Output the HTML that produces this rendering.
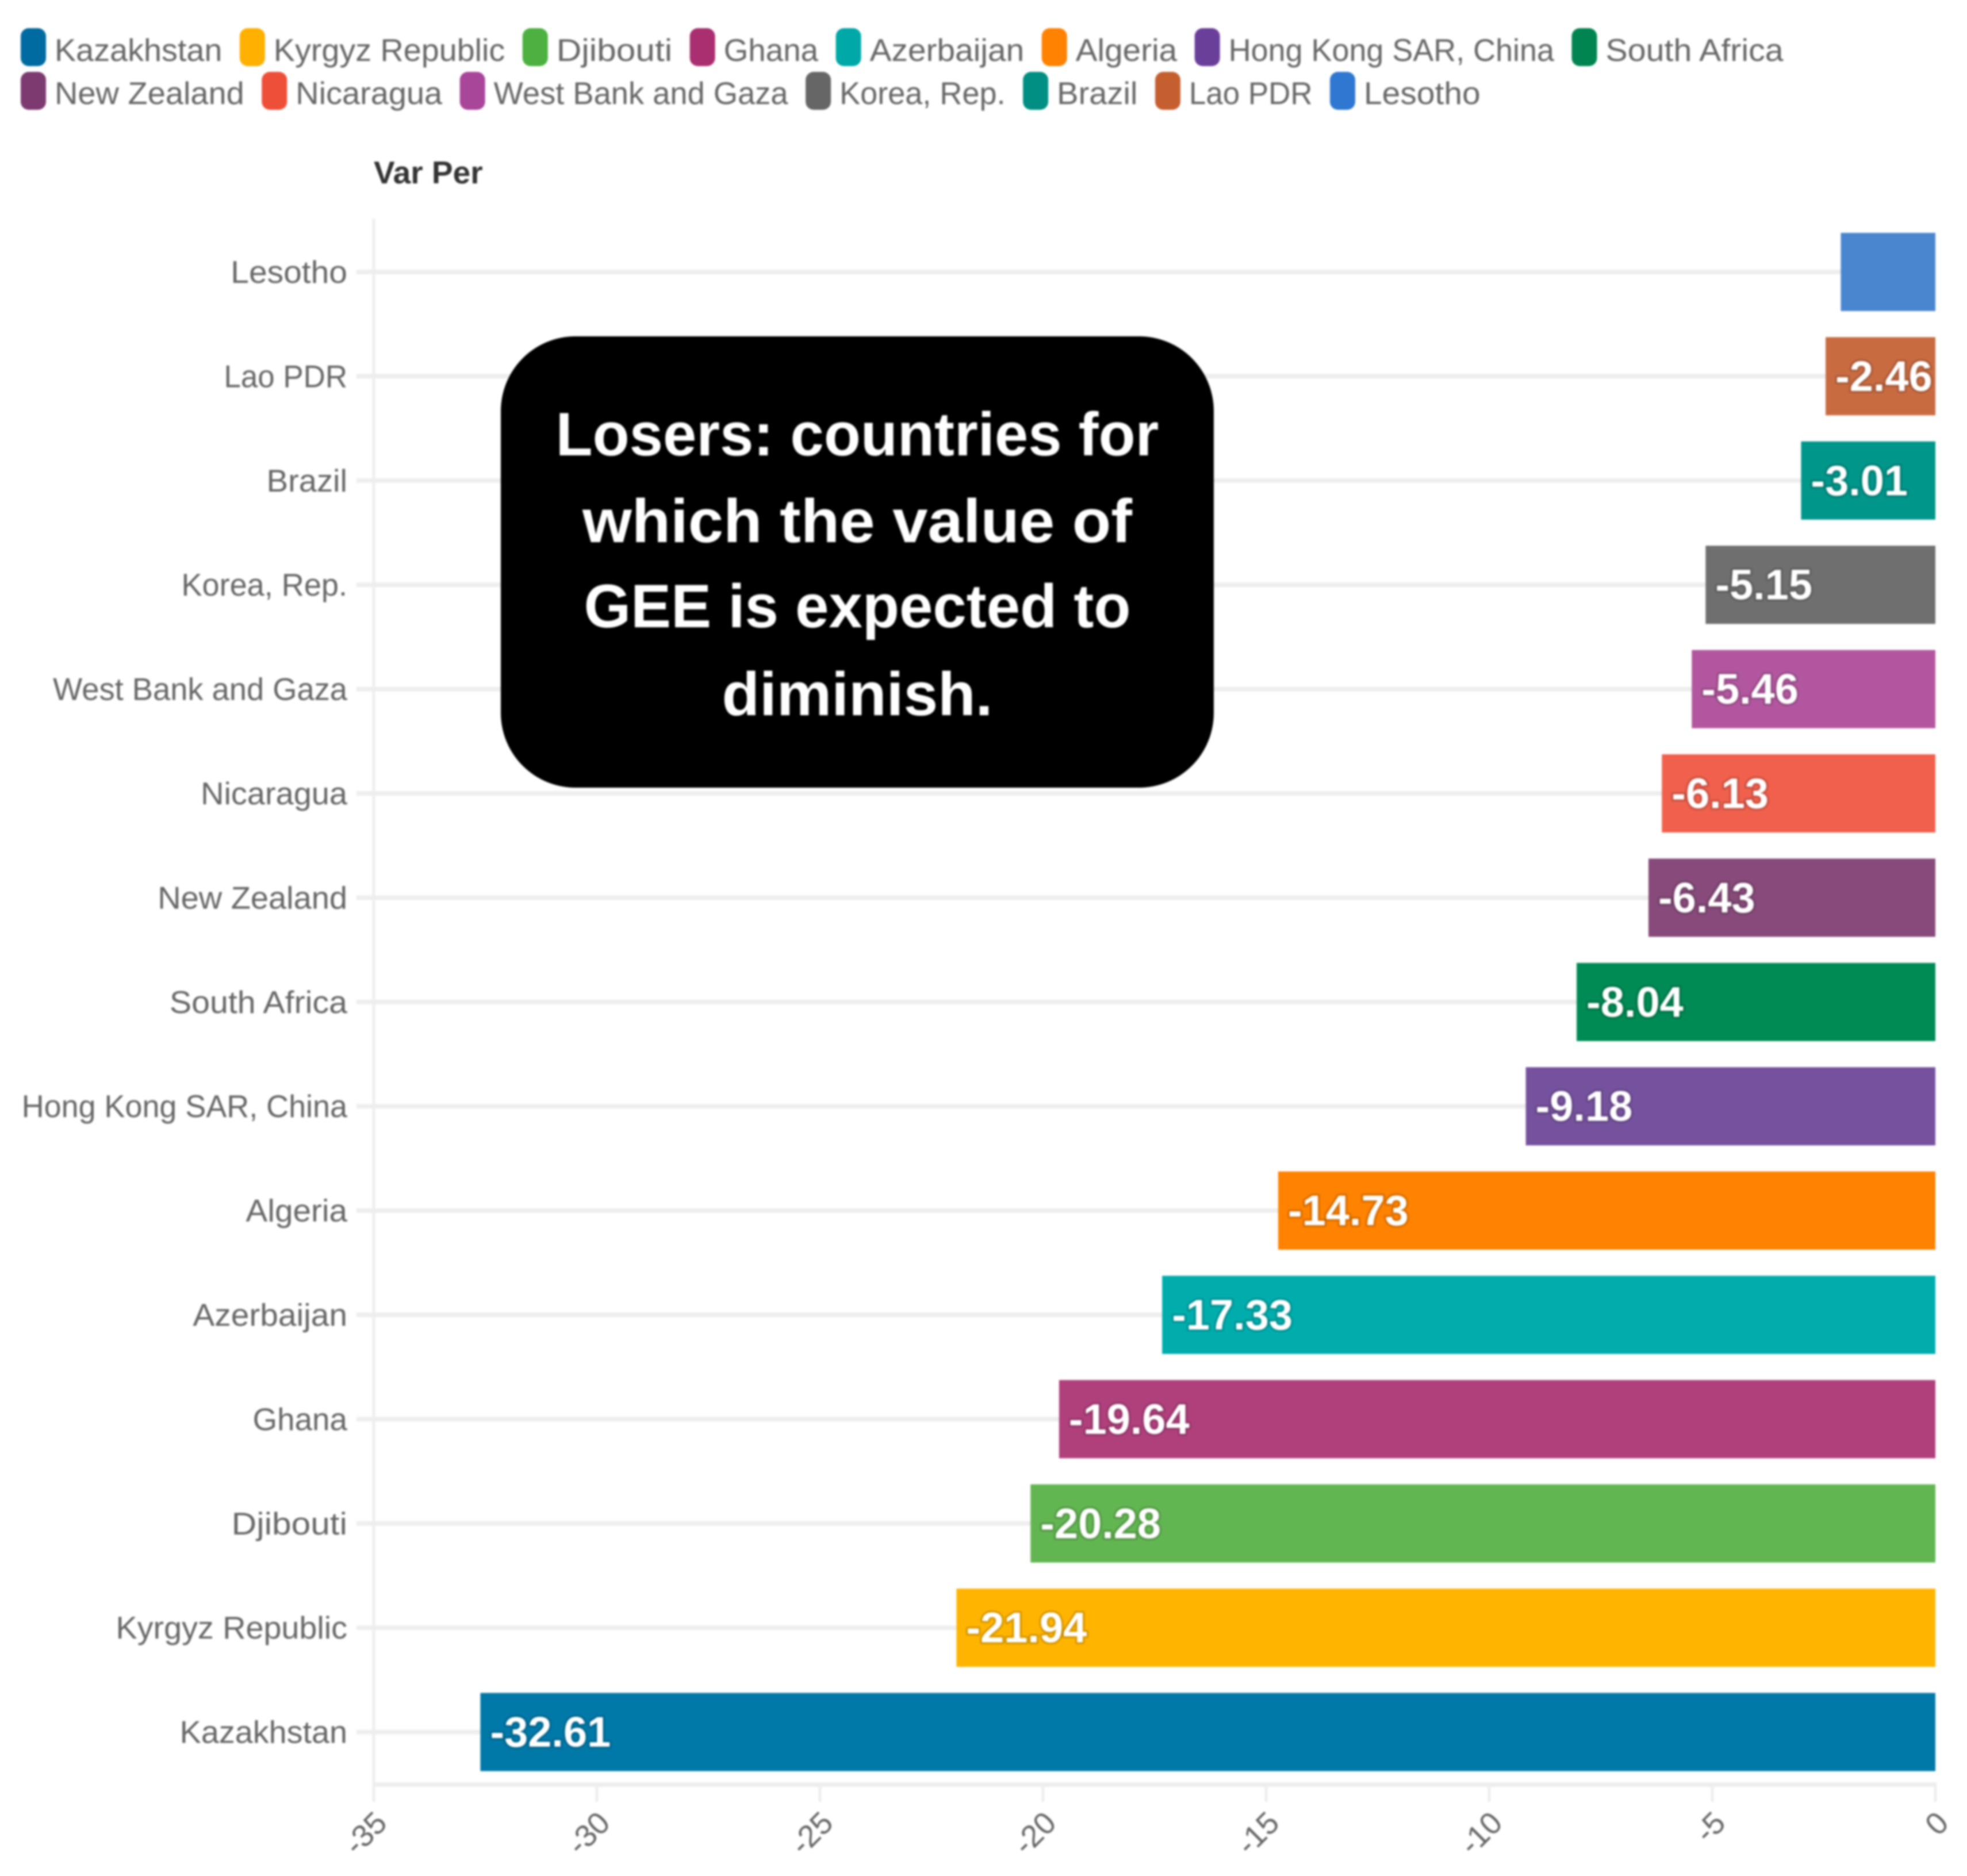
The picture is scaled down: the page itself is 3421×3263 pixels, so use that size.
<!DOCTYPE html>
<html lang="en">
<head>
<meta charset="utf-8">
<title>Losers: countries for which the value of GEE is expected to diminish</title>
<style>
  html, body { margin: 0; padding: 0; background: #ffffff; }
  #chart { display: block; width: 3421px; height: 3263px; filter: blur(1.5px); font-family: "Liberation Sans", sans-serif; }
</style>
</head>
<body>
<svg id="chart" xmlns="http://www.w3.org/2000/svg" width="3421" height="3263" viewBox="0 0 3421 3263">
  <rect x="0" y="0" width="3421" height="3263" fill="#ffffff"/>
  <g id="legend"></g>
  <text x="650" y="319" font-size="55" font-weight="700" fill="#333333">Var Per</text>
  <g id="grid"></g>
  <g id="axes"></g>
  <g id="bars"></g>
  <g id="y-labels"></g>
  <g id="x-labels"></g>
  <g id="bar-values"></g>
  <g>
    <rect x="871" y="585" width="1240" height="785" rx="130" ry="130" fill="#000000"/>
    <g font-size="107" font-weight="700" fill="#ffffff" text-anchor="middle">
      <text x="1491" y="792" textLength="1049" lengthAdjust="spacingAndGlyphs">Losers: countries for</text>
      <text x="1491" y="943" textLength="956" lengthAdjust="spacingAndGlyphs">which the value of</text>
      <text x="1491" y="1091" textLength="951" lengthAdjust="spacingAndGlyphs">GEE is expected to</text>
      <text x="1491" y="1244" textLength="471" lengthAdjust="spacingAndGlyphs">diminish.</text>
    </g>
  </g>
</svg>
<script>
const categories = ["Lesotho", "Lao PDR", "Brazil", "Korea, Rep.", "West Bank and Gaza", "Nicaragua", "New Zealand", "South Africa", "Hong Kong SAR, China", "Algeria", "Azerbaijan", "Ghana", "Djibouti", "Kyrgyz Republic", "Kazakhstan"];
const values = [-2.12, -2.46, -3.01, -5.15, -5.46, -6.13, -6.43, -8.04, -9.18, -14.73, -17.33, -19.64, -20.28, -21.94, -32.61];
const barColors = ["#4a86d0", "#c96b41", "#00968a", "#6f6f6f", "#b2579f", "#f0604d", "#874a7a", "#008a54", "#76529e", "#ff8200", "#00adad", "#b0407c", "#62b652", "#ffb400", "#0079a8"];
const swatchColors = ["#2f77d0", "#c55f30", "#008f82", "#666666", "#a8469a", "#ee4f38", "#7c3a70", "#008550", "#6a3f9a", "#ff8200", "#00a8a8", "#a92f70", "#4cb140", "#ffb000", "#006ba0"];
const legendRowOne = ["Kazakhstan", "Kyrgyz Republic", "Djibouti", "Ghana", "Azerbaijan", "Algeria", "Hong Kong SAR, China", "South Africa"];
const legendRowTwo = ["New Zealand", "Nicaragua", "West Bank and Gaza", "Korea, Rep.", "Brazil", "Lao PDR", "Lesotho"];
const xTicks = [-35, -30, -25, -20, -15, -10, -5, 0];

/* horizontal glyph-fit factors that compensate for the substitute font */
const labelFit = {
  "Lesotho": 1.045, "Lao PDR": 0.97, "Brazil": 1.03, "Korea, Rep.": 0.992, "West Bank and Gaza": 0.996,
  "Nicaragua": 1.026, "New Zealand": 1.027, "South Africa": 1.052, "Hong Kong SAR, China": 0.989,
  "Algeria": 1.04, "Azerbaijan": 1.043, "Ghana": 1.005, "Djibouti": 1.108, "Kyrgyz Republic": 1.022, "Kazakhstan": 1.023
};

const NS = "http://www.w3.org/2000/svg";
const plot = { left: 650, right: 3366, firstCenter: 473, step: 181.4, barHeight: 136, bottom: 3104, top: 380 };
function xScale(v) { return plot.right + (v / 35) * (plot.right - plot.left); }
function yScale(i) { return plot.firstCenter + i * plot.step; }
function make(tag, attrs, parent) {
  const el = document.createElementNS(NS, tag);
  for (const k in attrs) el.setAttribute(k, attrs[k]);
  parent.appendChild(el);
  return el;
}
function fitLabel(textEl, name) {
  const w = textEl.getComputedTextLength() * labelFit[name];
  textEl.setAttribute("textLength", w);
  textEl.setAttribute("lengthAdjust", "spacingAndGlyphs");
  return w;
}

const gridG = document.getElementById("grid");
const axesG = document.getElementById("axes");
const barsG = document.getElementById("bars");
const yG = document.getElementById("y-labels");
const xG = document.getElementById("x-labels");
const valG = document.getElementById("bar-values");
const legendG = document.getElementById("legend");

/* axes */
const yAxisLine = make("rect", { x: plot.left - 2.5, y: plot.top, width: 5, height: plot.bottom - plot.top + 30, fill: "#eeeeee" }, axesG);


const xAxisLine = make("rect", { x: plot.left - 2, y: plot.bottom - 4, width: plot.right - plot.left + 4, height: 8, fill: "#eeeeee" }, axesG);



xTicks.forEach(function (t) {
  const tick = make("rect", { x: xScale(t) - 2.5, y: plot.bottom, width: 5, height: 30, fill: "#eeeeee" }, axesG);
  
  
  const px = xScale(t) + 26, py = 3174;
  const label = make("text", { x: px, y: py, "font-size": 54, fill: "#666666", "text-anchor": "end", transform: "rotate(-45 " + px + " " + py + ")" }, xG);
  
  
  label.textContent = String(t);
});

/* rows */
categories.forEach(function (name, i) {
  const cy = yScale(i);
  const line = make("rect", { x: plot.left - 30, y: cy - 4, width: plot.right - plot.left + 30, height: 8, fill: "#eeeeee" }, gridG);
  
  

  const left = xScale(values[i]);
  const bar = make("rect", { x: left, y: cy - plot.barHeight / 2, width: plot.right - left, height: plot.barHeight, fill: barColors[i] }, barsG);
  
  

  const yl = make("text", { x: 604, y: cy + 19, "font-size": 54.5, fill: "#666666", "text-anchor": "end" }, yG);
  
  
  yl.textContent = name;
  fitLabel(yl, name);

  const vl = make("text", { x: left + 17, y: cy + 25.5, "font-size": 74, "font-weight": 700, fill: "#ffffff", stroke: "rgba(0,0,0,0.16)", "stroke-width": 7, "paint-order": "stroke", "stroke-linejoin": "round" }, valG);
  
  
  vl.textContent = values[i].toFixed(2);
  if (vl.getComputedTextLength() + 17 > plot.right - left) vl.remove();
});

/* legend */
function drawLegendRow(names, swatchTop, baseline) {
  let x = 36;
  names.forEach(function (name) {
    const color = swatchColors[categories.indexOf(name)];
    const swatch = make("rect", { x: x, y: swatchTop, width: 44, height: 66, rx: 14, ry: 14, fill: color }, legendG);
    
    
    const label = make("text", { x: x + 59, y: baseline, "font-size": 54.5, fill: "#666666" }, legendG);
    
    
    label.textContent = name;
    const w = fitLabel(label, name);
    x += 59 + w + 30.5;
  });
}
drawLegendRow(legendRowOne, 49, 106);
drawLegendRow(legendRowTwo, 125, 181);
</script>
</body>
</html>
